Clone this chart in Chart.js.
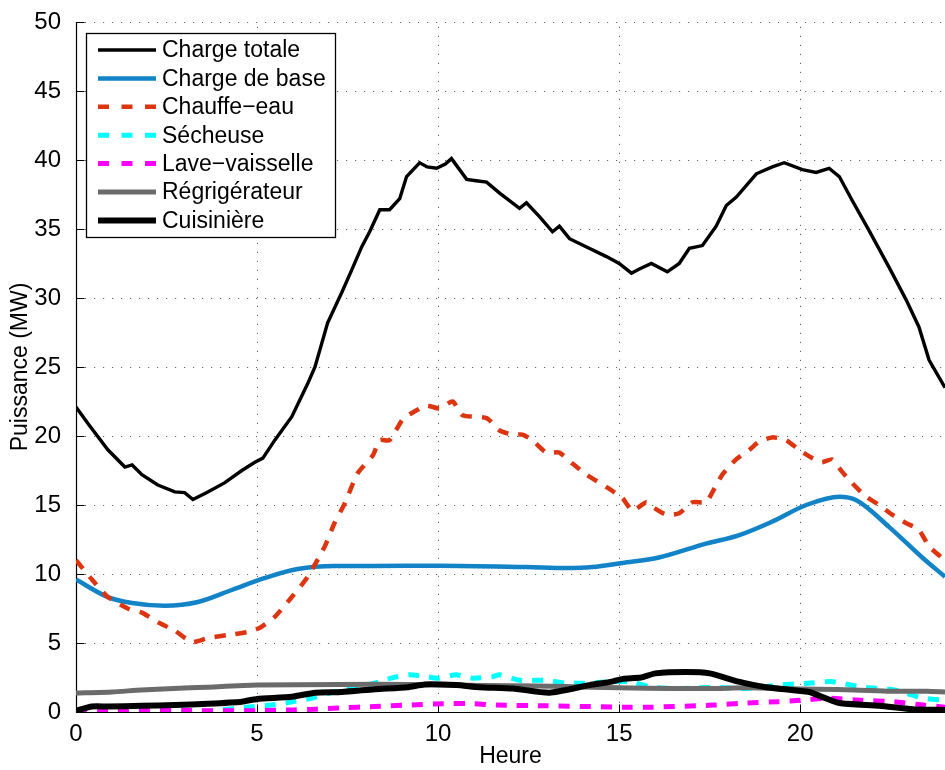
<!DOCTYPE html>
<html>
<head>
<meta charset="utf-8">
<script src="https://cdn.jsdelivr.net/npm/chart.js@4.4.1/dist/chart.umd.min.js"></script>
<style>
  html, body { margin: 0; padding: 0; background: #fff; }
  #wrap { width: 945px; height: 770px; position: relative; }
</style>
</head>
<body>
<div id="wrap"><canvas id="c"></canvas></div>
<script>
// Profil de charge journalier (MW) par usage
const totalHours = [0, 0.33, 0.88, 1.35, 1.55, 1.82, 2.26, 2.73, 3.0, 3.23, 3.64, 4.1, 4.58, 4.94, 5.16, 5.49, 5.96, 6.4, 6.6, 6.95, 7.34, 7.61, 7.89, 8.11, 8.39, 8.66, 8.94, 9.13, 9.49, 9.7, 9.96, 10.2, 10.37, 10.79, 11.05, 11.34, 11.7, 12.25, 12.44, 12.8, 13.16, 13.35, 13.63, 14.1, 14.65, 15.0, 15.34, 15.56, 15.89, 16.33, 16.66, 16.94, 17.3, 17.68, 17.96, 18.23, 18.79, 19.23, 19.56, 20.06, 20.44, 20.8, 21.08, 21.43, 21.9, 22.46, 22.92, 23.28, 23.56, 24];
const totalLoad = [22.1, 20.9, 19.0, 17.75, 17.9, 17.2, 16.45, 15.95, 15.9, 15.4, 15.95, 16.6, 17.5, 18.1, 18.4, 19.7, 21.4, 23.8, 25.0, 28.2, 30.4, 32.0, 33.7, 34.8, 36.4, 36.4, 37.2, 38.8, 39.8, 39.5, 39.4, 39.7, 40.1, 38.6, 38.5, 38.4, 37.6, 36.5, 36.9, 35.9, 34.8, 35.2, 34.3, 33.7, 33.0, 32.5, 31.8, 32.1, 32.5, 31.9, 32.5, 33.6, 33.8, 35.2, 36.7, 37.3, 39.0, 39.5, 39.8, 39.3, 39.1, 39.4, 38.8, 37.1, 34.9, 32.2, 29.9, 27.9, 25.5, 23.5];

const baseHours = [0, 0.88, 1.55, 2.45, 3.37, 4.3, 5.2, 6.12, 7.14, 8.25, 10.04, 12.44, 13.54, 14.26, 15.09, 16.1, 17.4, 18.3, 19.23, 20.17, 21.08, 21.54, 22.46, 23.37, 24];
const baseLoad = [9.6, 8.33, 7.9, 7.7, 7.97, 8.84, 9.7, 10.36, 10.58, 10.58, 10.6, 10.5, 10.43, 10.5, 10.8, 11.2, 12.2, 12.8, 13.8, 15.0, 15.6, 15.36, 13.4, 11.2, 9.8];

const heaterHours = [0, 0.44, 0.88, 1.43, 1.82, 2.26, 2.73, 3.2, 3.64, 4.19, 4.74, 5.08, 5.49, 5.96, 6.4, 6.87, 7.14, 7.42, 7.78, 8.2, 8.39, 8.66, 9.02, 9.3, 9.68, 10.04, 10.4, 10.68, 11.34, 11.7, 12.06, 12.33, 12.6, 12.99, 13.35, 13.71, 14.1, 14.65, 15.09, 15.37, 15.75, 15.92, 16.3, 16.66, 17.02, 17.4, 17.57, 17.85, 18.23, 18.6, 18.87, 19.23, 19.61, 19.97, 20.33, 20.6, 20.88, 21.16, 21.43, 21.82, 22.18, 22.54, 22.92, 23.28, 23.56, 24];
const heaterLoad = [11.0, 9.6, 8.33, 7.5, 7.2, 6.5, 5.9, 5.07, 5.36, 5.58, 5.8, 6.1, 6.9, 8.33, 9.8, 12.0, 13.7, 15.1, 17.3, 18.6, 19.7, 19.7, 21.2, 21.7, 22.2, 22.0, 22.5, 21.5, 21.3, 20.4, 20.1, 20.1, 19.7, 18.8, 18.8, 18.0, 17.2, 16.3, 15.5, 14.6, 15.2, 14.86, 14.3, 14.4, 15.2, 15.2, 15.9, 17.2, 18.3, 19.0, 19.6, 19.9, 19.7, 19.0, 18.4, 18.1, 18.3, 17.4, 16.6, 15.6, 15.0, 14.3, 13.7, 13.2, 12.0, 11.0];

const dryerHours = [0, 1.5, 3.5, 3.8, 4.7, 5.4, 6.0, 6.5, 7.1, 7.8, 8.4, 8.7, 9.2, 9.7, 10.0, 10.5, 10.95, 11.5, 11.7, 12.25, 13.0, 13.5, 14.2, 14.8, 15.3, 15.9, 16.7, 17.6, 18.5, 19.4, 20.3, 20.9, 21.7, 22.6, 23.4, 24];
const dryerLoad = [0.0, 0.05, 0.05, 0.1, 0.35, 0.5, 0.75, 1.0, 1.45, 1.8, 2.2, 2.45, 2.7, 2.55, 2.45, 2.7, 2.45, 2.55, 2.7, 2.3, 2.3, 2.1, 2.1, 2.2, 2.2, 1.8, 1.7, 1.8, 1.7, 1.95, 2.1, 2.2, 1.8, 1.6, 1.0, 0.85];

const dishHours = [0, 1.0, 3.0, 5.0, 6.0, 6.6, 7.3, 8.25, 9.16, 10.1, 11.0, 11.6, 13.0, 15.1, 15.9, 17.6, 18.5, 19.4, 20.0, 20.8, 21.7, 22.6, 23.4, 24];
const dishLoad = [0.0, 0.1, 0.1, 0.1, 0.15, 0.2, 0.3, 0.4, 0.5, 0.6, 0.6, 0.5, 0.45, 0.35, 0.35, 0.5, 0.65, 0.75, 0.85, 1.0, 0.85, 0.75, 0.5, 0.35];

const fridgeHours = [0, 1.0, 1.8, 2.7, 3.6, 5.0, 7.3, 9.2, 10.5, 12.0, 13.5, 15.0, 16.5, 17.6, 18.5, 19.5, 20.5, 21.5, 22.5, 23.5, 24];
const fridgeLoad = [1.37, 1.45, 1.6, 1.7, 1.8, 1.95, 2.0, 2.0, 1.95, 1.9, 1.85, 1.75, 1.7, 1.7, 1.75, 1.7, 1.65, 1.6, 1.5, 1.5, 1.45];

const stoveHours = [0, 0.44, 0.88, 1.82, 2.73, 3.64, 4.58, 5.0, 5.96, 6.6, 7.34, 8.25, 9.16, 9.63, 10.5, 11.14, 12.06, 13.08, 14.18, 14.8, 15.1, 15.6, 16.0, 16.86, 17.5, 18.3, 19.06, 20.25, 20.6, 21.08, 22.2, 23.1, 24];
const stoveLoad = [0.1, 0.4, 0.4, 0.45, 0.5, 0.6, 0.75, 0.95, 1.1, 1.4, 1.45, 1.65, 1.8, 2.0, 1.95, 1.8, 1.7, 1.4, 1.95, 2.2, 2.4, 2.5, 2.8, 2.9, 2.8, 2.2, 1.8, 1.45, 1.1, 0.65, 0.45, 0.2, 0.15];

const seriesLabels = ['Charge totale', 'Charge de base', 'Chauffe\u2212eau', 'S\u00e9cheuse', 'Lave\u2212vaisselle', 'R\u00e9grig\u00e9rateur', 'Cuisini\u00e8re'];
const xTickValues = [0, 5, 10, 15, 20];
const yTickValues = [0, 5, 10, 15, 20, 25, 30, 35, 40, 45, 50];

const FONT = '"Liberation Sans", Arial, Helvetica, sans-serif';

function pairs(xs, ys) { return xs.map((h, i) => ({ x: h, y: ys[i] })); }

const styles = [
  { color: '#000000', width: 3.4, dash: [], tension: 0 },
  { color: '#1283c6', width: 4.5, dash: [], tension: 0.4 },
  { color: '#dc3510', width: 4.5, dash: [11, 10], tension: 0.2 },
  { color: '#00ffff', width: 5, dash: [11, 10], tension: 0.2 },
  { color: '#ff00ff', width: 5, dash: [11, 10], tension: 0.2 },
  { color: '#6b6b6b', width: 5, dash: [], tension: 0.2 },
  { color: '#000000', width: 6, dash: [], tension: 0.2 }
];
const seriesData = [
  pairs(totalHours, totalLoad),
  pairs(baseHours, baseLoad),
  pairs(heaterHours, heaterLoad),
  pairs(dryerHours, dryerLoad),
  pairs(dishHours, dishLoad),
  pairs(fridgeHours, fridgeLoad),
  pairs(stoveHours, stoveLoad)
];

const datasets = seriesData.map((d, i) => ({
  label: seriesLabels[i],
  data: d,
  borderColor: styles[i].color,
  backgroundColor: styles[i].color,
  borderWidth: styles[i].width,
  borderDash: styles[i].dash,
  tension: styles[i].tension,
  cubicInterpolationMode: i === 1 ? 'monotone' : 'default',
  pointRadius: 0,
  fill: false,
  // later series are painted over earlier ones
  order: seriesData.length - 1 - i
}));

// Dotted grid, axis lines and inward tick marks
const axesFrame = {
  id: 'axesFrame',
  beforeDatasetsDraw(chart) {
    const { ctx, chartArea: a, scales: { x, y } } = chart;
    ctx.save();
    ctx.lineWidth = 1;
    ctx.strokeStyle = 'rgba(0,0,0,0.6)';
    ctx.setLineDash([1.2, 7.8]);
    xTickValues.forEach(v => {
      if (v === 0) return;
      const px = Math.round(x.getPixelForValue(v)) + 0.5;
      ctx.beginPath(); ctx.moveTo(px, a.bottom); ctx.lineTo(px, a.top); ctx.stroke();
    });
    yTickValues.forEach(v => {
      if (v === 0) return;
      const py = Math.round(y.getPixelForValue(v)) + 0.5;
      ctx.beginPath(); ctx.moveTo(a.left, py); ctx.lineTo(a.right, py); ctx.stroke();
    });
    ctx.setLineDash([]);
    ctx.strokeStyle = '#000';
    ctx.lineWidth = 1.2;
    const lx = Math.round(a.left) + 0.5, by = Math.round(a.bottom) + 0.5;
    ctx.beginPath(); ctx.moveTo(lx, a.top); ctx.lineTo(lx, by); ctx.lineTo(a.right, by); ctx.stroke();
    ctx.lineWidth = 1;
    xTickValues.forEach(v => {
      const px = Math.round(x.getPixelForValue(v)) + 0.5;
      ctx.beginPath(); ctx.moveTo(px, by); ctx.lineTo(px, by - 8); ctx.stroke();
    });
    yTickValues.forEach(v => {
      const py = Math.round(y.getPixelForValue(v)) + 0.5;
      ctx.beginPath(); ctx.moveTo(lx, py); ctx.lineTo(lx + 8, py); ctx.stroke();
    });
    ctx.restore();
  }
};

// Boxed legend inside the upper-left corner of the plot
const boxLegend = {
  id: 'boxLegend',
  afterDatasetsDraw(chart) {
    const { ctx } = chart;
    const bx = 86.5, bTop = 33.5, bw = 249, bh = 204;
    ctx.save();
    ctx.fillStyle = '#fff';
    ctx.fillRect(bx, bTop, bw, bh);
    ctx.strokeStyle = '#000';
    ctx.lineWidth = 1.3;
    ctx.strokeRect(bx, bTop, bw, bh);
    ctx.font = '23px ' + FONT;
    ctx.textBaseline = 'middle';
    ctx.textAlign = 'left';
    chart.data.datasets.forEach((ds, i) => {
      const yy = 50 + i * 28.4;
      ctx.strokeStyle = ds.borderColor;
      ctx.lineWidth = ds.borderWidth;
      ctx.setLineDash(ds.borderDash && ds.borderDash.length ? [11, 12.5] : []);
      ctx.beginPath(); ctx.moveTo(98, yy); ctx.lineTo(156, yy); ctx.stroke();
      ctx.setLineDash([]);
      ctx.fillStyle = '#000';
      ctx.fillText(ds.label, 162, yy + 1);
    });
    ctx.restore();
  }
};

new Chart(document.getElementById('c'), {
  type: 'line',
  data: { datasets },
  options: {
    responsive: true,
    maintainAspectRatio: false,
    devicePixelRatio: 1,
    animation: false,
    layout: { padding: { top: 22, right: 0, bottom: 0, left: 0 } },
    plugins: { legend: { display: false }, tooltip: { enabled: false } },
    scales: {
      x: {
        type: 'linear',
        min: 0, max: 24,
        afterBuildTicks: s => { s.ticks = xTickValues.map(v => ({ value: v })); },
        afterFit: s => { s.height = 58; s.paddingLeft = 0; s.paddingRight = 0; },
        grid: { display: false, drawTicks: false },
        border: { display: false },
        ticks: { color: '#000', padding: 8, font: { family: FONT, size: 24 }, maxRotation: 0 },
        title: { display: true, text: 'Heure', color: '#000', font: { family: FONT, size: 23 }, padding: { top: 0, bottom: 0 } }
      },
      y: {
        type: 'linear',
        min: 0, max: 50,
        afterBuildTicks: s => { s.ticks = yTickValues.map(v => ({ value: v })); },
        afterFit: s => { s.width = 76; s.paddingTop = 0; s.paddingBottom = 0; },
        grid: { display: false, drawTicks: false },
        border: { display: false },
        ticks: { color: '#000', padding: 15, font: { family: FONT, size: 24 } },
        title: { display: true, text: 'Puissance (MW)', color: '#000', font: { family: FONT, size: 23 }, padding: { top: 7, bottom: 0 } }
      }
    }
  },
  plugins: [axesFrame, boxLegend]
});
</script>
</body>
</html>
